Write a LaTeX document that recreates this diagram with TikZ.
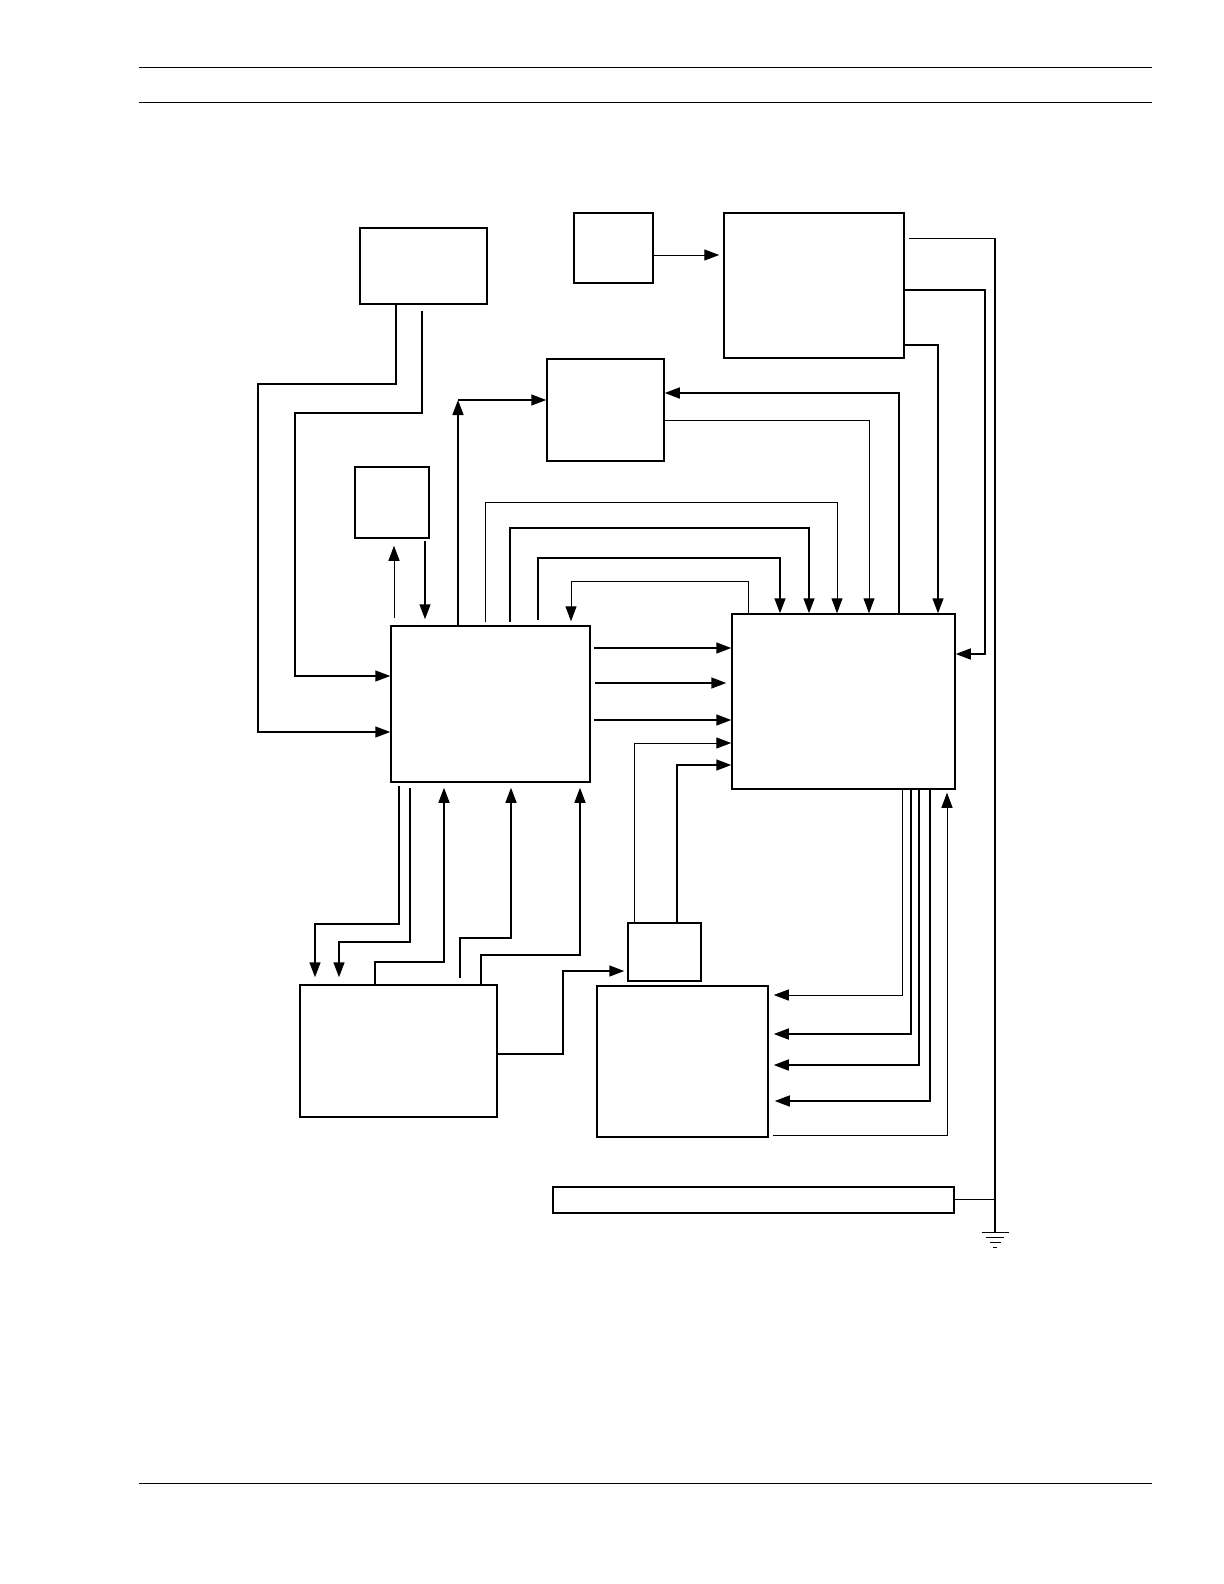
\documentclass[tikz,border=0pt]{standalone}
\usetikzlibrary{arrows.meta}
\usetikzlibrary{fit}
\pgfmathsetmacro{\myal}{7.5}
\pgfmathsetmacro{\myaw}{5.5}

\begin{document}
\begin{tikzpicture}[x=0.5pt, y=-0.5pt, line width=0.75pt,
    box/.style={draw, inner sep=0pt, line width=0.75pt},
    fine/.style={line width=0.5pt},
    arr/.style={-{Triangle[length=\myal pt, width=\myaw pt]}}]
\useasboundingbox (0,0) rectangle (1224,1584);

% page rules
\draw[line width=0.5pt] (139,67.7) -- (1152,67.7);
\draw[line width=0.5pt] (139,103) -- (1152,103);
\draw[line width=0.5pt] (139,1483) -- (1152,1483);

% blocks
\node[box, fit={(360,228) (487,304)}] (blkA) {};
\node[box, fit={(574,213) (653,283)}] (blkB) {};
\node[box, fit={(724,213) (904,358)}] (blkC) {};
\node[box, fit={(547,359) (664,461)}] (blkD) {};
\node[box, fit={(355,467) (429,538)}] (blkE) {};
\node[box, fit={(391,626) (590,782)}] (blkF) {};
\node[box, fit={(732,614) (955,789)}] (blkG) {};
\node[box, fit={(300,985) (497,1117)}] (blkH) {};
\node[box, fit={(628,923) (701,981)}] (blkI) {};
\node[box, fit={(597,986) (768,1137)}] (blkJ) {};
\node[box, fit={(553,1187) (954,1213)}] (blkK) {};
\coordinate (gnd) at (995,1232.7);
\coordinate (gtop) at (995,238);
\coordinate (fd) at (458,400);

% A -> F
\draw[arr] (blkA.south -| 396,0) |- (258,384) |- (blkF.west |- 0,732);
\draw[arr, shorten <=3pt] (blkA.south -| 422,0) |- (295,413) |- (blkF.west |- 0,676);

% B -> C, C -> ground
\draw[arr, fine, shorten >=2pt] (blkB.east |- 0,255) -- (blkC.west |- 0,255);
\draw[fine, shorten <=2pt] (blkC.east |- gtop) -- (gtop);
\draw (gtop) -- (gnd);

% C -> G
\draw[arr] (blkC.east |- 0,290) -| (985,654) -- (blkG.east |- 0,654);
\draw[arr] (blkC.east |- 0,345) -| (blkG.north -| 938,0);

% D <-> G
\draw[arr] (blkG.north -| 899,0) |- (blkD.east |- 0,393);
\draw[arr, fine] (blkD.east |- 0,420) -| (blkG.north -| 869,0);

% F -> D
\draw[arr] (blkF.north -| fd) -- (fd);
\draw[arr] (fd) -- (blkD.west |- fd);

% F <-> E
\draw[arr, fine, shorten <=3.5pt, shorten >=3.5pt] (blkF.north -| 394,0) -- (blkE.south -| 394,0);
\draw[arr, shorten <=1pt, shorten >=3pt] (blkE.south -| 425,0) -- (blkF.north -| 425,0);

% F <-> G over the top
\draw[arr, fine, shorten <=1.5pt] (blkF.north -| 485,0) |- (837,502) -- (blkG.north -| 837,0);
\draw[arr, shorten <=1.5pt] (blkF.north -| 510,0) |- (809,528) -- (blkG.north -| 809,0);
\draw[arr, shorten <=2.5pt] (blkF.north -| 538,0) |- (780,558) -- (blkG.north -| 780,0);
\draw[arr, fine, shorten >=2pt] (blkG.north -| 748,0) |- (571,581) -- (blkF.north -| 571,0);

% F -> G side
\draw[arr, shorten <=1.5pt] (blkF.east |- 0,648) -- (blkG.west |- 0,648);
\draw[arr, shorten <=2pt, shorten >=2.5pt] (blkF.east |- 0,683) -- (blkG.west |- 0,683);
\draw[arr, shorten <=1.5pt] (blkF.east |- 0,720) -- (blkG.west |- 0,720);

% I -> G
\draw[arr, fine] (blkI.north -| 634,0) |- (blkG.west |- 0,743);
\draw[arr] (blkI.north -| 677,0) |- (blkG.west |- 0,765);

% F -> H
\draw[arr, shorten <=1.5pt, shorten >=3.5pt] (blkF.south -| 399,0) |- (315,924) -- (blkH.north -| 315,0);
\draw[arr, shorten <=2.5pt, shorten >=3.5pt] (blkF.south -| 410,0) |- (339,942) -- (blkH.north -| 339,0);

% H -> F
\draw[arr, shorten >=2.5pt] (blkH.north -| 375,0) |- (444,962) -- (blkF.south -| 444,0);
\draw[arr, shorten <=3pt, shorten >=2.5pt] (blkH.north -| 460,0) |- (511,938) -- (blkF.south -| 511,0);
\draw[arr, shorten >=2.5pt] (blkH.north -| 481,0) |- (580,955) -- (blkF.south -| 580,0);

% H -> I
\draw[arr, shorten >=1.5pt] (blkH.east |- 0,1054) -| (563,971) -- (blkI.west |- 0,971);

% G <-> J
\draw[arr, fine, shorten >=2.5pt] (blkG.south -| 902,0) |- (blkJ.east |- 0,995);
\draw[arr, shorten >=2.5pt] (blkG.south -| 911,0) |- (blkJ.east |- 0,1034);
\draw[arr, shorten >=2.5pt] (blkG.south -| 919,0) |- (blkJ.east |- 0,1065);
\draw[arr, shorten >=3pt] (blkG.south -| 930,0) |- (blkJ.east |- 0,1101);
\draw[arr, fine, shorten <=2pt, shorten >=1.5pt] (blkJ.east |- 0,1135) -| (blkG.south -| 947,0);

% K -> ground
\draw[fine] (blkK.east |- 0,1199) -- (gnd |- 0,1199);
\foreach \w/\d in {13.5/0, 9/5, 5.5/10, 2/15}
    \draw[line width=0.6pt] (gnd) ++(-\w,\d) -- ++({2*\w},0);
\end{tikzpicture}
\end{document}
